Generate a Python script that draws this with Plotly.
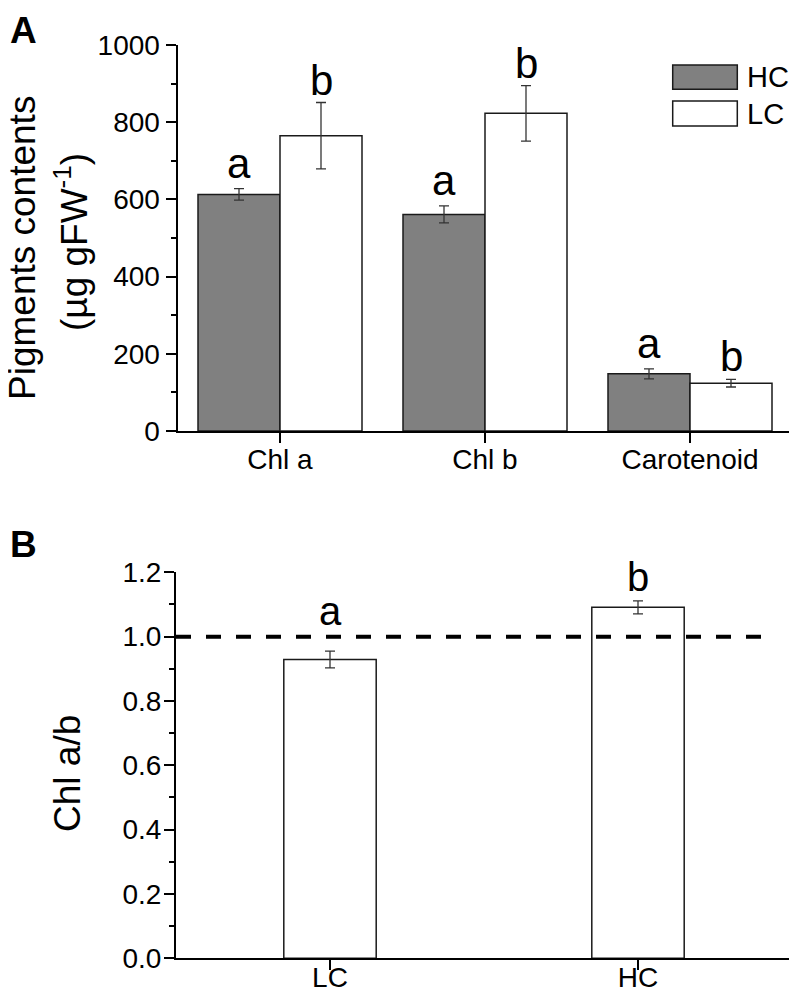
import plotly.graph_objects as go

# ---------------- data ----------------
categories = ["Chl a", "Chl b", "Carotenoid"]
hc_values = [613, 561, 148]
hc_errors = [15, 22, 13]
lc_values = [765, 823, 124]
lc_errors = [86, 72, 10]
hc_letters = ["a", "a", "a"]
lc_letters = ["b", "b", "b"]

ratio_groups = ["LC", "HC"]
ratio_values = [0.929, 1.091]
ratio_errors = [0.026, 0.02]
ratio_letters = ["a", "b"]
ratio_reference = 1.0

# ---------------- layout helpers ----------------
# the page body has an 8px margin, so positions (given in window pixels)
# are shifted by 8px inside the figure
OFF = 8
W, H = 797, 1001
FONT = "Liberation Sans, Arial, sans-serif"


def px(x):
    return (x - OFF) / W


def py(y):
    return 1 - (y - OFF) / H


fig = go.Figure()

# Panel A bars
xa = list(range(len(categories)))
fig.add_trace(go.Bar(
    x=xa, y=hc_values, name="HC",
    marker=dict(color="#808080", line=dict(color="#1a1a1a", width=1.5)),
    error_y=dict(type="data", array=hc_errors, color="#333333", thickness=1.3, width=5),
    xaxis="x", yaxis="y", showlegend=False,
))
fig.add_trace(go.Bar(
    x=xa, y=lc_values, name="LC",
    marker=dict(color="white", line=dict(color="#1a1a1a", width=1.5)),
    error_y=dict(type="data", array=lc_errors, color="#333333", thickness=1.3, width=5),
    xaxis="x", yaxis="y", showlegend=False,
))

# Panel B bars
xb = list(range(len(ratio_groups)))
fig.add_trace(go.Bar(
    x=xb, y=ratio_values, width=0.3,
    marker=dict(color="white", line=dict(color="#1a1a1a", width=1.5)),
    error_y=dict(type="data", array=ratio_errors, color="#333333", thickness=1.3, width=5),
    xaxis="x2", yaxis="y2", showlegend=False,
))
# reference dashed line
fig.add_trace(go.Scatter(
    x=[-0.5, 1.4], y=[ratio_reference, ratio_reference], mode="lines",
    line=dict(color="black", width=4, dash="15px,15px"),
    xaxis="x2", yaxis="y2", showlegend=False, hoverinfo="skip",
))

axis_common = dict(
    showline=True, linecolor="black", linewidth=2, showgrid=False, zeroline=False,
    ticks="outside", ticklen=10, tickwidth=2, tickcolor="black", automargin=False,
    tickfont=dict(family=FONT, size=28, color="black"),
)

fig.update_layout(
    width=W, height=H, autosize=False,
    margin=dict(l=0, r=0, t=0, b=0, pad=0),
    paper_bgcolor="white", plot_bgcolor="white",
    barmode="group", bargap=0.2, bargroupgap=0,
    xaxis=dict(domain=[px(177.5), px(792.5)], anchor="y", range=[-0.5, 2.5],
               tickvals=xa, ticktext=categories, ticklabelstandoff=-8, **axis_common),
    yaxis=dict(domain=[py(431), py(45)], anchor="x", range=[0, 1000],
               tickvals=[0, 200, 400, 600, 800, 1000],
               minor=dict(dtick=100, ticks="outside", ticklen=5, tickwidth=1.5, tickcolor="black"),
               **axis_common),
    xaxis2=dict(domain=[px(176), px(792)], anchor="y2", range=[-0.5, 1.5],
                tickvals=xb, ticktext=ratio_groups, ticklabelstandoff=-17, **axis_common),
    yaxis2=dict(domain=[py(958.3), py(572.3)], anchor="x2", range=[0, 1.2],
                tickvals=[0, 0.2, 0.4, 0.6, 0.8, 1.0, 1.2], tickformat=".1f",
                ticklabelstandoff=-3,
                minor=dict(dtick=0.1, ticks="outside", ticklen=5, tickwidth=1.5, tickcolor="black"),
                **axis_common),
)

annotations = []
letter_font = dict(family=FONT, size=42, color="black")
shift = {"a": 0, "b": -3}
for i in range(len(categories)):
    annotations.append(dict(x=i - 0.2, y=hc_values[i] + hc_errors[i], xref="x", yref="y",
                            text=hc_letters[i], showarrow=False, yanchor="bottom",
                            yshift=shift[hc_letters[i]], font=letter_font))
    annotations.append(dict(x=i + 0.2, y=lc_values[i] + lc_errors[i], xref="x", yref="y",
                            text=lc_letters[i], showarrow=False, yanchor="bottom",
                            yshift=shift[lc_letters[i]], font=letter_font))
b_shift = [16, 0]
for i in range(len(ratio_groups)):
    annotations.append(dict(x=i, y=ratio_values[i] + ratio_errors[i], xref="x2", yref="y2",
                            text=ratio_letters[i], showarrow=False, yanchor="bottom",
                            yshift=b_shift[i], font=dict(family=FONT, size=40, color="black")))

# axis titles and panel labels
annotations += [
    dict(x=px(22), y=py(248), xref="paper", yref="paper", text="Pigments contents",
         textangle=-90, showarrow=False, xanchor="center", yanchor="middle",
         font=dict(family=FONT, size=37, color="black")),
    dict(x=px(72), y=py(242), xref="paper", yref="paper", text="(µg gFW<sup>-1</sup>)",
         textangle=-90, showarrow=False, xanchor="center", yanchor="middle",
         font=dict(family=FONT, size=37, color="black")),
    dict(x=px(67), y=py(774), xref="paper", yref="paper", text="Chl a/b",
         textangle=-90, showarrow=False, xanchor="center", yanchor="middle",
         font=dict(family=FONT, size=37, color="black")),
    dict(x=px(8), y=py(8), xref="paper", yref="paper", text="<b>A</b>",
         showarrow=False, xanchor="left", yanchor="top",
         font=dict(family=FONT, size=37, color="black")),
    dict(x=px(8), y=py(522), xref="paper", yref="paper", text="<b>B</b>",
         showarrow=False, xanchor="left", yanchor="top",
         font=dict(family=FONT, size=37, color="black")),
]

# custom legend
legend_items = [("HC", "#808080", 65, 89.3), ("LC", "white", 101, 126)]
shapes = []
for name, color, y0, y1 in legend_items:
    shapes.append(dict(type="rect", xref="paper", yref="paper",
                       x0=px(672.7), x1=px(737.3), y0=py(y1), y1=py(y0),
                       fillcolor=color, line=dict(color="#1a1a1a", width=1.5)))
    annotations.append(dict(x=px(745), y=py((y0 + y1) / 2), xref="paper", yref="paper",
                            text=name, showarrow=False, xanchor="left", yanchor="middle",
                            font=dict(family=FONT, size=29, color="black")))

fig.update_layout(annotations=annotations, shapes=shapes)

fig.write_html("out.html")
